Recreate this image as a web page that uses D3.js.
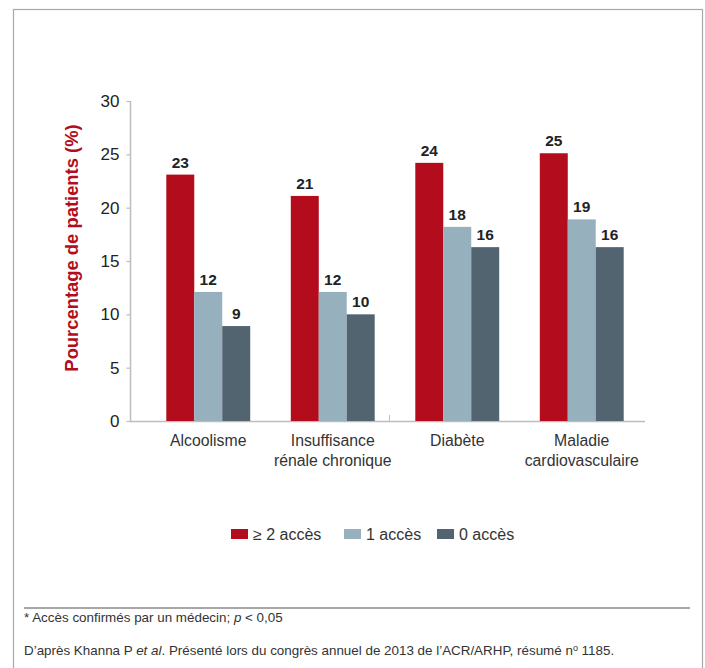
<!DOCTYPE html>
<html><head><meta charset="utf-8">
<script src="https://cdn.jsdelivr.net/npm/d3@7"></script>
<style>body{margin:0;background:#fff}svg{display:block;font-family:"Liberation Sans",Arial,sans-serif}</style>
</head><body>
<script>
const categories = [["Alcoolisme"], ["Insuffisance", "rénale chronique"], ["Diabète"], ["Maladie", "cardiovasculaire"]];
const seriesNames = ["≥ 2 accès", "1 accès", "0 accès"];
const seriesColors = ["#b30d1d", "#97b0be", "#51646f"];
const values2plus = [23.1, 21.1, 24.2, 25.1];
const values1 = [12.1, 12.1, 18.2, 18.9];
const values0 = [8.9, 10.0, 16.3, 16.3];
const yTicks = [0, 5, 10, 15, 20, 25, 30];
const yTitle = "Pourcentage de patients (%)";
const footnote1 = "Accès confirmés par un médecin; ";
const footnote2a = "D’après Khanna P ";
const footnote2b = "et al";
const footnote2c = ". Présenté lors du congrès annuel de 2013 de l’ACR/ARHP, résumé n";
const footnote2d = "o";
const footnote2e = " 1185.";

const W = 705, H = 668;
const svg = d3.select("body").append("svg").attr("width", W).attr("height", H);

// frame
svg.append("rect").attr("x", 13.5).attr("y", 9.5).attr("width", 689).attr("height", 700)
  .attr("fill", "none").attr("stroke", "#a8a8a8").attr("stroke-width", 1.2);

const series = [values2plus, values1, values0];
const y = d3.scaleLinear().domain([0, 30]).range([421, 101]);
const x0 = d3.scaleBand().domain(d3.range(categories.length)).range([146, 644]).paddingInner(0.326).paddingOuter(0.163);
const x1 = d3.scaleBand().domain(d3.range(series.length)).range([0, x0.bandwidth()]);

// y axis
const yAxis = d3.axisLeft(y).tickValues(yTicks).tickSize(4).tickPadding(7);
const gy = svg.append("g").attr("transform", "translate(130.5,0)").call(yAxis);
gy.select(".domain").attr("stroke", "#bdbdbd").attr("stroke-width", 1.5).attr("d", "M0,101V421");
gy.selectAll(".tick line").attr("stroke", "#bdbdbd").attr("stroke-width", 1.2);
gy.selectAll(".tick text").attr("fill", "#222").attr("font-size", 17).attr("font-family", "Liberation Sans, Arial, sans-serif");

// x axis line
svg.append("line").attr("x1", 130).attr("x2", 645).attr("y1", 421.5).attr("y2", 421.5)
  .attr("stroke", "#bdbdbd").attr("stroke-width", 1.5);
svg.append("line").attr("x1", 389.5).attr("x2", 389.5).attr("y1", 415).attr("y2", 421)
  .attr("stroke", "#bdbdbd").attr("stroke-width", 1);

// bars
const groups = svg.append("g").selectAll("g").data(categories).join("g")
  .attr("transform", (d, i) => `translate(${x0(i)},0)`);
groups.each(function(cat, ci) {
  const g = d3.select(this);
  series.forEach((vals, si) => {
    const v = vals[ci];
    g.append("rect").attr("x", x1(si)).attr("width", x1.bandwidth())
      .attr("y", y(v)).attr("height", y(0) - y(v)).attr("fill", seriesColors[si]);
    g.append("text").attr("x", x1(si) + x1.bandwidth() / 2).attr("y", y(v) - 7)
      .attr("text-anchor", "middle").attr("font-size", 15.5).attr("font-weight", "bold")
      .attr("fill", "#222").text(Math.round(v));
  });
  const t = g.append("text").attr("text-anchor", "middle").attr("font-size", 15.8).attr("fill", "#333");
  cat.forEach((line, li) => {
    t.append("tspan").attr("x", x0.bandwidth() / 2).attr("y", 446 + li * 20).text(line);
  });
});

// y title
svg.append("text").attr("transform", "translate(78,248) rotate(-90)")
  .attr("text-anchor", "middle").attr("font-size", 18.4).attr("font-weight", "bold")
  .attr("fill", "#b30d1d").text(yTitle);

// legend
const legX = [231, 344, 437];
seriesNames.forEach((n, i) => {
  svg.append("rect").attr("x", legX[i]).attr("y", 529).attr("width", 17).attr("height", 10).attr("fill", seriesColors[i]);
  svg.append("text").attr("x", legX[i] + 22).attr("y", 539.5).attr("font-size", 16).attr("fill", "#333").text(n);
});

// footer
svg.append("line").attr("x1", 24).attr("x2", 690).attr("y1", 608).attr("y2", 608).attr("stroke", "#8a8a8a").attr("stroke-width", 1.5);
const f1 = svg.append("text").attr("x", 24).attr("y", 622).attr("font-size", 13.4).attr("fill", "#333");
f1.append("tspan").text("* " + footnote1);
f1.append("tspan").attr("font-style", "italic").text("p");
f1.append("tspan").text(" < 0,05");
const f2 = svg.append("text").attr("x", 24).attr("y", 655).attr("font-size", 13.4).attr("fill", "#333");
f2.append("tspan").text(footnote2a);
f2.append("tspan").attr("font-style", "italic").text(footnote2b);
f2.append("tspan").text(footnote2c);
f2.append("tspan").attr("font-size", 9).attr("dy", -4).text(footnote2d);
f2.append("tspan").attr("dy", 4).text(footnote2e);
</script>
</body></html>
